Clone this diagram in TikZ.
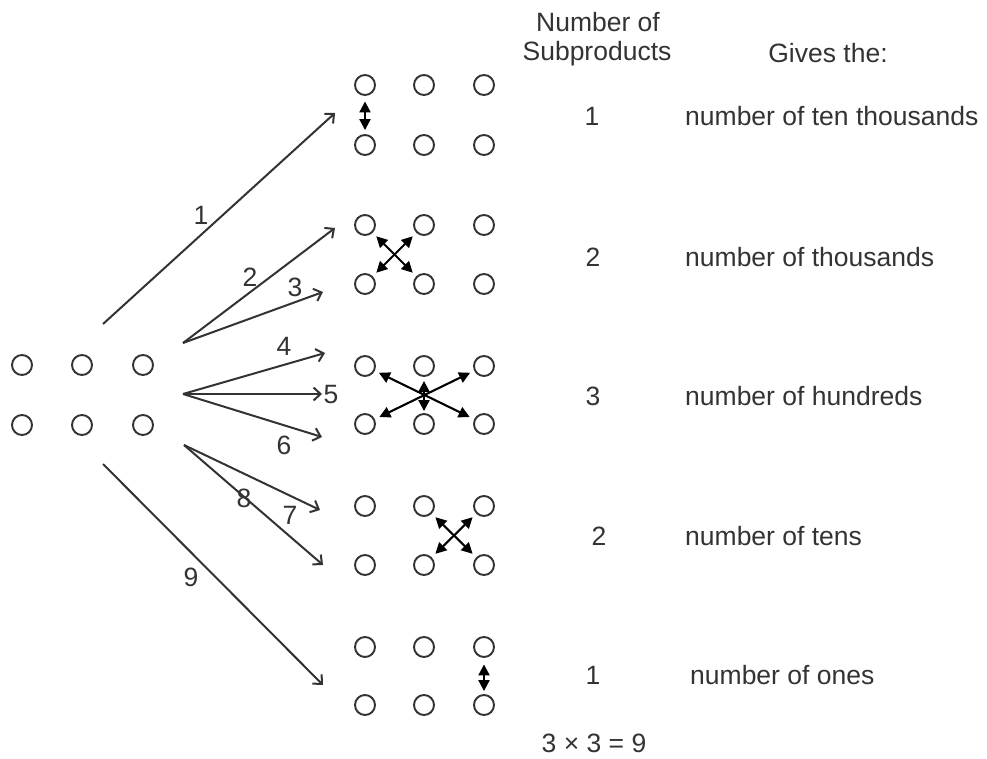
\documentclass[tikz,border=0pt]{standalone}
\usepackage{fontspec}
\setmainfont{Liberation Sans}
\usetikzlibrary{arrows.meta}
\definecolor{ink}{HTML}{333333}
\begin{document}
\begin{tikzpicture}[x=1pt,y=-1pt,
  dot/.style={circle,draw=ink,line width=1.9pt,minimum size=20pt,inner sep=0pt},
  txt/.style={inner sep=0pt,text=ink,font=\fontsize{26.5}{30}\selectfont},
  feed/.style={draw=ink,line width=2pt,-{Straight Barb[length=7pt,width=13pt,line width=2pt]}},
  pair/.style={draw=black,line width=2.1pt,{Triangle[length=11pt,width=11pt]}-{Triangle[length=11pt,width=11pt]}}]
\useasboundingbox (0,0) rectangle (987,759);

% left circles
\foreach \c/\x in {1/22,2/82,3/143}{
  \node[dot] (Lt\c) at (\x,365) {};
  \node[dot] (Lb\c) at (\x,425) {};
}
% right groups
\foreach \g/\yt/\yb in {1/85/145,2/225/284,3/366/424,4/506/565,5/647/705}{
  \foreach \c/\x in {1/365,2/424,3/484}{
    \node[dot] (g\g t\c) at (\x,\yt) {};
    \node[dot] (g\g b\c) at (\x,\yb) {};
  }
}

% double arrows inside groups
\draw[pair,shorten <=5.5pt,shorten >=4pt] (g1t1) -- (g1b1);
\draw[pair,shorten <=5pt,shorten >=5pt] (g2t1) -- (g2b2);
\draw[pair,shorten <=5pt,shorten >=5pt] (g2t2) -- (g2b1);
\draw[pair,shorten <=4.5pt,shorten >=5pt] (g3t1) -- (g3b3);
\draw[pair,shorten <=4.5pt,shorten >=5pt] (g3t3) -- (g3b1);
\draw[pair,shorten <=4pt,shorten >=2pt] (g3t2) -- (g3b2);
\draw[pair,shorten <=5pt,shorten >=5pt] (g4t2) -- (g4b3);
\draw[pair,shorten <=5pt,shorten >=5pt] (g4t3) -- (g4b2);
\draw[pair,shorten <=6.5pt,shorten >=3pt] (g5t3) -- (g5b3);

% arrow end points
\coordinate (s1) at (103,324);
\coordinate (s23) at (183,343);
\coordinate (s456) at (183,394);
\coordinate (s78) at (184,445);
\coordinate (s9) at (103,464);
\coordinate (e1) at (335,113);
\coordinate (e2) at (335,228);
\coordinate (e3) at (323,292);
\coordinate (e4) at (325,353);
\coordinate (e5) at (322,394);
\coordinate (e6) at (322,437);
\coordinate (e7) at (320,510);
\coordinate (e8) at (323,565);
\coordinate (e9) at (323,685);

\draw[feed] (s1) -- (e1);
\draw[feed] (s23) -- (e2);
\draw[feed] (s23) -- (e3);
\draw[feed] (s456) -- (e4);
\draw[feed] (s456) -- (e5);
\draw[feed] (s456) -- (e6);
\draw[feed] (s78) -- (e7);
\draw[feed] (s78) -- (e8);
\draw[feed] (s9) -- (e9);

% arrow labels
\node[txt] (n1) at (201,215) {1};
\node[txt] (n2) at (250,277) {2};
\node[txt] (n3) at (295,287) {3};
\node[txt] (n4) at (284,346) {4};
\node[txt] (n5) at (331,395) {5};
\node[txt] (n6) at (284,445) {6};
\node[txt] (n7) at (290,515) {7};
\node[txt] (n8) at (244,498) {8};
\node[txt] (n9) at (191,577) {9};

% headers
\node[txt,anchor=base] (h1) at (598,32) {Number of};
\node[txt,anchor=base] (h2) at (597,61) {Subproducts};
\node[txt,anchor=base] (h3) at (828,63) {Gives the:};

% counts
\node[txt,anchor=base] (c1) at (592,126) {1};
\node[txt,anchor=base] (c2) at (593,266) {2};
\node[txt,anchor=base] (c3) at (593,405) {3};
\node[txt,anchor=base] (c4) at (599,545) {2};
\node[txt,anchor=base] (c5) at (593,684) {1};

% meanings
\node[txt,anchor=base west] (m1) at (685,126) {number of ten thousands};
\node[txt,anchor=base west] (m2) at (685,266) {number of thousands};
\node[txt,anchor=base west] (m3) at (685,405) {number of hundreds};
\node[txt,anchor=base west] (m4) at (685,545) {number of tens};
\node[txt,anchor=base west] (m5) at (690,684) {number of ones};

\node[txt,anchor=base] (tot) at (594,752) {3 × 3 = 9};
\end{tikzpicture}
\end{document}
